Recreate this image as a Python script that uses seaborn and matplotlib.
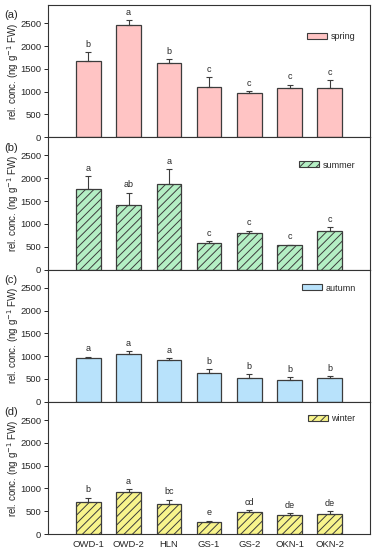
import pandas as pd
import seaborn as sns
import matplotlib.pyplot as plt
from matplotlib.patches import Patch

sites = ['OWD-1', 'OWD-2', 'HLN', 'GS-1', 'GS-2', 'OKN-1', 'OKN-2']

spring = [1665, 2450, 1625, 1105, 965, 1075, 1075]
spring_err = [200, 125, 90, 205, 40, 80, 175]
spring_sig = ['b', 'a', 'b', 'c', 'c', 'c', 'c']

summer = [1765, 1415, 1885, 585, 795, 535, 845]
summer_err = [285, 270, 315, 45, 60, 10, 90]
summer_sig = ['a', 'ab', 'a', 'c', 'c', 'c', 'c']

autumn = [962, 1037, 926, 629, 518, 481, 518]
autumn_err = [30, 80, 30, 95, 80, 60, 45]
autumn_sig = ['a', 'a', 'a', 'b', 'b', 'b', 'b']

winter = [711, 912, 657, 262, 486, 411, 448]
winter_err = [90, 65, 100, 35, 45, 45, 50]
winter_sig = ['b', 'a', 'bc', 'e', 'cd', 'de', 'de']

sns.set_style('ticks')
plt.rcParams['font.family'] = ['Liberation Sans', 'DejaVu Sans']
plt.rcParams['hatch.linewidth'] = 0.7

panels = [
    ('(a)', 'spring', spring, spring_err, spring_sig, '#ffc4c4', '', 0.76),
    ('(b)', 'summer', summer, summer_err, summer_sig, '#b4efc4', '////', 0.79),
    ('(c)', 'autumn', autumn, autumn_err, autumn_sig, '#b8e2fb', '', 0.86),
    ('(d)', 'winter', winter, winter_err, winter_sig, '#f8f48c', '////', 0.87),
]

fig, axes = plt.subplots(4, 1, figsize=(3.76, 5.5), dpi=100, sharex=True)
fig.subplots_adjust(left=0.128, right=0.984, top=0.991, bottom=0.029, hspace=0)

edge = '#3c3c3c'
for ax, (tag, season, vals, errs, sig, col, hatch, ly) in zip(axes, panels):
    df = pd.DataFrame({'site': sites, 'value': vals, 'err': errs})
    sns.barplot(x='site', y='value', data=df, color=col, saturation=1, width=0.61,
                edgecolor=edge, linewidth=0.9, hatch=hatch, ax=ax)
    ax.errorbar(df['site'], df['value'], yerr=[[0] * len(df), df['err']],
                fmt='none', ecolor=edge, elinewidth=0.8, capsize=2.5, capthick=0.8)
    for i, row in df.iterrows():
        ax.text(i, row['value'] + row['err'] + 70, sig[i], ha='center', va='bottom',
                fontsize=6.5)
    ax.set_xlim(-1, 7)
    ax.set_ylim(0, 2900)
    ax.set_yticks([0, 500, 1000, 1500, 2000, 2500])
    ax.tick_params(axis='y', labelsize=6.8, length=3, width=0.7, pad=2)
    ax.tick_params(axis='x', length=0, labelsize=6.8, pad=4)
    ax.set_xlabel('')
    ax.set_ylabel('rel. conc. (ng g$^{-1}$ FW)', fontsize=7)
    ax.yaxis.set_label_coords(-0.085, 0.5)
    for s in ax.spines.values():
        s.set_linewidth(0.8)
        s.set_color('#333333')
    handle = Patch(facecolor=col, edgecolor=edge, hatch=hatch, linewidth=0.8)
    ax.legend([handle], [season], loc='center right', bbox_to_anchor=(0.98, ly),
              frameon=False, fontsize=6.5, handlelength=2.2, handleheight=0.6,
              handletextpad=0.4)
    ax.text(-0.135, 0.96, tag, transform=ax.transAxes, fontsize=8, ha='left', va='top')

plt.savefig('out.png', dpi=100)
